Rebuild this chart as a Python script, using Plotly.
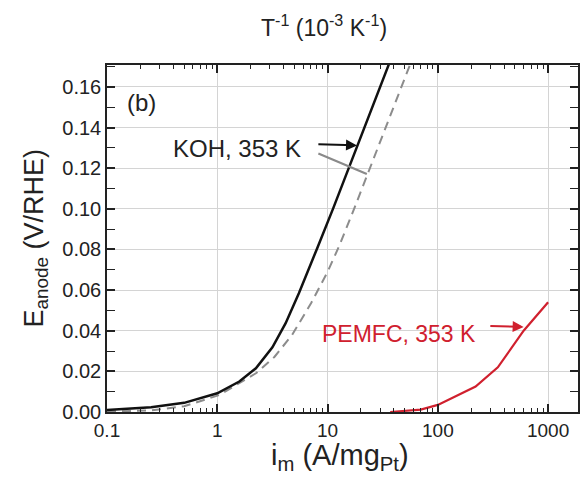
import plotly.graph_objects as go
import numpy as np

# Data
koh_i = [0.1, 0.251, 0.501, 1.0, 1.585, 2.239, 3.162, 4.169, 5.495, 6.761, 8.04, 11.2, 15.6, 21.8, 29.8, 35.9]
koh_e = [0.001, 0.0023, 0.0045, 0.0092, 0.0150, 0.0215, 0.0318, 0.0437, 0.0585, 0.0702, 0.0805, 0.100, 0.120, 0.140, 0.1595, 0.171]

koh_ref_i = [0.1, 0.251, 0.501, 1.047, 2.26, 3.31, 4.78, 7.08, 10.0, 12.7, 17.8, 25.1, 35.5, 50.1, 56.2]
koh_ref_e = [0.0002, 0.0008, 0.0028, 0.0084, 0.0192, 0.0272, 0.038, 0.0535, 0.069, 0.0815, 0.1013, 0.1222, 0.1432, 0.1642, 0.1712]

pem_i = [37, 50, 70, 100, 150, 220, 350, 600, 1000]
pem_e = [0.0, 0.0005, 0.0012, 0.0035, 0.008, 0.0125, 0.022, 0.040, 0.054]

x_major = [0.1, 1, 10, 100, 1000]
x_major_text = ["0.1", "1", "10", "100", "1000"]
x_minor = [m * d for d in [0.1, 1, 10, 100, 1000] for m in range(2, 10)]
y_major = [0.00, 0.02, 0.04, 0.06, 0.08, 0.10, 0.12, 0.14, 0.16]
y_major_text = ["0.00", "0.02", "0.04", "0.06", "0.08", "0.10", "0.12", "0.14", "0.16"]

FONT = "Liberation Sans, Arial, sans-serif"
XR = [-1, 3.271]

fig = go.Figure()
fig.add_trace(go.Scatter(x=koh_ref_i, y=koh_ref_e, mode="lines",
                         line=dict(color="#8c8c8c", width=2, dash="9px,6px"),
                         showlegend=False))
fig.add_trace(go.Scatter(x=koh_i, y=koh_e, mode="lines",
                         line=dict(color="#111111", width=2.5),
                         showlegend=False))
fig.add_trace(go.Scatter(x=pem_i, y=pem_e, mode="lines",
                         line=dict(color="#d0202e", width=2.2), showlegend=False))
# invisible trace on the minor-tick overlay axis
fig.add_trace(go.Scatter(x=[1], y=[0], xaxis="x2", mode="markers",
                         marker=dict(opacity=0), showlegend=False, hoverinfo="skip"))

fig.update_layout(
    width=580, height=481,
    margin=dict(l=107, r=0, t=65, b=69),
    plot_bgcolor="white", paper_bgcolor="white",
    font=dict(family=FONT, color="#222222"),
    xaxis=dict(type="log", range=XR,
               tickmode="array", tickvals=x_major, ticktext=x_major_text,
               ticks="inside", ticklen=8, tickwidth=1.5, tickcolor="#222",
               showline=True, linecolor="#222", linewidth=1.5, mirror="allticks",
               showgrid=True, gridcolor="#d4d4d4", gridwidth=1,
               tickfont=dict(size=19),
               zeroline=False),
    xaxis2=dict(type="log", range=XR, overlaying="x", anchor="y", side="bottom",
                tickmode="array", tickvals=x_minor, showticklabels=False,
                ticks="inside", ticklen=4, tickwidth=1.2, tickcolor="#222",
                showline=True, linecolor="#222", linewidth=1.5, mirror="allticks",
                showgrid=False, zeroline=False),
    yaxis=dict(range=[0, 0.1708],
               tickmode="array", tickvals=y_major, ticktext=y_major_text,
               ticks="inside", ticklen=8, tickwidth=1.5, tickcolor="#222",
               showline=True, linecolor="#222", linewidth=1.5, mirror="allticks",
               showgrid=True, gridcolor="#d4d4d4", gridwidth=1,
               tickfont=dict(size=20),
               minor=dict(dtick=0.01, ticks="inside", ticklen=4, tickwidth=1.2,
                          tickcolor="#222", showgrid=False),
               zeroline=False),
)

# axis titles as annotations
fig.add_annotation(text="E<sub>anode</sub> (V/RHE)", xref="paper", yref="paper",
                   x=0, y=0.5, xshift=-91, textangle=-90, showarrow=False,
                   font=dict(size=27, color="#222"))
fig.add_annotation(text="i<sub>m</sub> (A/mg<sub>Pt</sub>)", xref="paper", yref="paper",
                   x=0.495, y=0, yshift=-65, showarrow=False,
                   font=dict(size=29, color="#222"))
fig.add_annotation(text="T<sup>-1</sup> (10<sup>-3</sup> K<sup>-1</sup>)", xref="paper", yref="paper",
                   x=0.46, y=1, yshift=56, showarrow=False,
                   font=dict(size=23, color="#222"))
fig.add_annotation(text="(b)", xref="paper", yref="paper", xanchor="center",
                   x=0.0, y=1, xshift=34, yshift=-22, showarrow=False,
                   font=dict(size=24, color="#222"))

# curve labels
fig.add_annotation(text="KOH, 353 K", x=np.log10(1.5), y=0.1295, xref="x", yref="y",
                   showarrow=False, font=dict(size=24, color="#222"))
fig.add_annotation(x=np.log10(18.5), y=0.1312, ax=np.log10(8.0), ay=0.1318,
                   xref="x", yref="y", axref="x", ayref="y", text="",
                   showarrow=True, arrowhead=2, arrowsize=1.1, arrowwidth=2, arrowcolor="#111")
fig.add_annotation(x=np.log10(22.7), y=0.1172, ax=np.log10(8.0), ay=0.1276,
                   xref="x", yref="y", axref="x", ayref="y", text="",
                   showarrow=True, arrowhead=0, arrowwidth=2.2, arrowcolor="#8a8a8a")
fig.add_annotation(text="PEMFC, 353 K", x=np.log10(44.3), y=0.0385, xref="x", yref="y",
                   showarrow=False, font=dict(size=23, color="#d0202e"))
fig.add_annotation(x=np.log10(600), y=0.0419, ax=np.log10(290), ay=0.0424,
                   xref="x", yref="y", axref="x", ayref="y", text="",
                   showarrow=True, arrowhead=2, arrowsize=1.1, arrowwidth=2, arrowcolor="#d0202e")

fig.write_html("out.html")
